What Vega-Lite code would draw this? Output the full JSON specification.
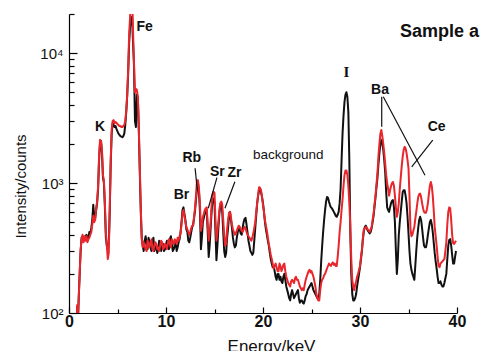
{
  "$schema": "https://vega.github.io/schema/vega-lite/v6.json",
  "width": 388,
  "height": 299,
  "autosize": {"type": "none"},
  "padding": {"left": 69, "top": 14, "right": 23, "bottom": 38},
  "background": "white",
  "config": {
    "view": {"stroke": null},
    "font": "Liberation Sans",
    "axis": {"grid": false, "domainColor": "#000", "tickColor": "#000", "labelColor": "#111", "titleColor": "#111", "domainWidth": 1.2, "tickWidth": 1.2}
  },
  "datasets": {
    "spec": [
      {"e":0.8,"b":70,"r":70},{"e":0.85,"b":112,"r":115},{"e":0.9,"b":75,"r":75},{"e":0.95,"b":100,"r":100},{"e":1.0,"b":130,"r":130},{"e":1.1,"b":200,"r":200},{"e":1.2,"b":300,"r":310},{"e":1.3,"b":380,"r":370},{"e":1.4,"b":390,"r":400},{"e":1.5,"b":360,"r":350},{"e":1.6,"b":370,"r":390},{"e":1.7,"b":390,"r":360},{"e":1.8,"b":400,"r":390},{"e":1.9,"b":370,"r":350},{"e":2.0,"b":380,"r":370},{"e":2.1,"b":420,"r":380},{"e":2.2,"b":410,"r":400},{"e":2.3,"b":450,"r":420},{"e":2.4,"b":520,"r":480},{"e":2.5,"b":680,"r":560},{"e":2.6,"b":560,"r":500},{"e":2.7,"b":540,"r":520},{"e":2.8,"b":620,"r":640},{"e":2.9,"b":700,"r":720},{"e":3.0,"b":900,"r":950},{"e":3.1,"b":1500,"r":1600},{"e":3.2,"b":2050,"r":2150},{"e":3.3,"b":2100,"r":2100},{"e":3.4,"b":1700,"r":1800},{"e":3.5,"b":1100,"r":1150},{"e":3.6,"b":1000,"r":1050},{"e":3.7,"b":650,"r":700},{"e":3.8,"b":380,"r":420},{"e":3.9,"b":330,"r":330},{"e":4.0,"b":310,"r":260},{"e":4.1,"b":340,"r":290},{"e":4.2,"b":600,"r":650},{"e":4.3,"b":1400,"r":1500},{"e":4.4,"b":2400,"r":2600},{"e":4.5,"b":2900,"r":3000},{"e":4.6,"b":2800,"r":3050},{"e":4.7,"b":2700,"r":2900},{"e":4.8,"b":2750,"r":2950},{"e":4.9,"b":2600,"r":2900},{"e":5.0,"b":2500,"r":2850},{"e":5.1,"b":2400,"r":2800},{"e":5.2,"b":2350,"r":2750},{"e":5.3,"b":2300,"r":2750},{"e":5.4,"b":2280,"r":2700},{"e":5.5,"b":2250,"r":2700},{"e":5.6,"b":2300,"r":2750},{"e":5.7,"b":2400,"r":2800},{"e":5.8,"b":2800,"r":3000},{"e":5.9,"b":3500,"r":3600},{"e":6.0,"b":4700,"r":4800},{"e":6.1,"b":7000,"r":7500},{"e":6.2,"b":12000,"r":14000},{"e":6.3,"b":16000,"r":19000},{"e":6.4,"b":18500,"r":30000},{"e":6.5,"b":19000,"r":30000},{"e":6.6,"b":12000,"r":15000},{"e":6.7,"b":8000,"r":8500},{"e":6.8,"b":3000,"r":5000},{"e":6.9,"b":2700,"r":5300},{"e":7.0,"b":4800,"r":5200},{"e":7.1,"b":4500,"r":4600},{"e":7.2,"b":2500,"r":2600},{"e":7.3,"b":1200,"r":1300},{"e":7.4,"b":600,"r":650},{"e":7.5,"b":380,"r":370},{"e":7.6,"b":330,"r":320},{"e":7.7,"b":300,"r":350},{"e":7.8,"b":360,"r":330},{"e":7.9,"b":390,"r":310},{"e":8.0,"b":340,"r":300},{"e":8.1,"b":310,"r":360},{"e":8.2,"b":380,"r":350},{"e":8.3,"b":350,"r":320},{"e":8.4,"b":320,"r":340},{"e":8.5,"b":300,"r":370},{"e":8.6,"b":350,"r":310},{"e":8.7,"b":380,"r":300},{"e":8.8,"b":300,"r":330},{"e":8.9,"b":320,"r":350},{"e":9.0,"b":330,"r":340},{"e":9.1,"b":290,"r":310},{"e":9.2,"b":310,"r":320},{"e":9.3,"b":360,"r":300},{"e":9.4,"b":350,"r":330},{"e":9.5,"b":300,"r":360},{"e":9.6,"b":320,"r":350},{"e":9.7,"b":340,"r":310},{"e":9.8,"b":300,"r":320},{"e":9.9,"b":310,"r":340},{"e":10.0,"b":340,"r":330},{"e":10.1,"b":360,"r":310},{"e":10.2,"b":330,"r":350},{"e":10.3,"b":310,"r":370},{"e":10.4,"b":370,"r":340},{"e":10.5,"b":390,"r":320},{"e":10.6,"b":340,"r":370},{"e":10.7,"b":300,"r":350},{"e":10.8,"b":310,"r":340},{"e":10.9,"b":330,"r":370},{"e":11.0,"b":350,"r":360},{"e":11.1,"b":300,"r":340},{"e":11.2,"b":320,"r":380},{"e":11.3,"b":350,"r":360},{"e":11.4,"b":370,"r":390},{"e":11.5,"b":420,"r":410},{"e":11.6,"b":500,"r":480},{"e":11.7,"b":620,"r":580},{"e":11.8,"b":650,"r":620},{"e":11.9,"b":580,"r":560},{"e":12.0,"b":520,"r":500},{"e":12.1,"b":440,"r":460},{"e":12.2,"b":420,"r":440},{"e":12.3,"b":360,"r":420},{"e":12.4,"b":350,"r":400},{"e":12.5,"b":380,"r":420},{"e":12.6,"b":420,"r":450},{"e":12.7,"b":460,"r":470},{"e":12.8,"b":480,"r":470},{"e":12.9,"b":540,"r":560},{"e":13.0,"b":620,"r":650},{"e":13.1,"b":760,"r":820},{"e":13.2,"b":900,"r":1050},{"e":13.3,"b":1000,"r":1050},{"e":13.4,"b":850,"r":900},{"e":13.5,"b":600,"r":700},{"e":13.6,"b":310,"r":430},{"e":13.7,"b":380,"r":470},{"e":13.8,"b":500,"r":550},{"e":13.9,"b":540,"r":580},{"e":14.0,"b":580,"r":620},{"e":14.1,"b":600,"r":640},{"e":14.2,"b":620,"r":650},{"e":14.3,"b":420,"r":480},{"e":14.4,"b":270,"r":360},{"e":14.5,"b":330,"r":420},{"e":14.6,"b":450,"r":500},{"e":14.7,"b":600,"r":680},{"e":14.8,"b":740,"r":820},{"e":14.9,"b":760,"r":860},{"e":15.0,"b":700,"r":840},{"e":15.1,"b":420,"r":520},{"e":15.2,"b":255,"r":360},{"e":15.3,"b":330,"r":420},{"e":15.4,"b":450,"r":500},{"e":15.5,"b":580,"r":620},{"e":15.6,"b":680,"r":700},{"e":15.7,"b":700,"r":720},{"e":15.8,"b":600,"r":680},{"e":15.9,"b":420,"r":520},{"e":16.0,"b":300,"r":400},{"e":16.1,"b":270,"r":330},{"e":16.2,"b":290,"r":340},{"e":16.3,"b":380,"r":440},{"e":16.4,"b":450,"r":520},{"e":16.5,"b":560,"r":590},{"e":16.6,"b":600,"r":600},{"e":16.7,"b":520,"r":540},{"e":16.8,"b":450,"r":480},{"e":16.9,"b":380,"r":440},{"e":17.0,"b":340,"r":420},{"e":17.1,"b":320,"r":400},{"e":17.2,"b":330,"r":410},{"e":17.3,"b":380,"r":430},{"e":17.4,"b":420,"r":450},{"e":17.5,"b":450,"r":470},{"e":17.6,"b":440,"r":460},{"e":17.7,"b":410,"r":440},{"e":17.8,"b":400,"r":430},{"e":17.9,"b":450,"r":420},{"e":18.0,"b":500,"r":440},{"e":18.1,"b":530,"r":460},{"e":18.2,"b":540,"r":450},{"e":18.3,"b":480,"r":420},{"e":18.4,"b":420,"r":400},{"e":18.5,"b":360,"r":390},{"e":18.6,"b":330,"r":380},{"e":18.7,"b":300,"r":370},{"e":18.8,"b":290,"r":360},{"e":18.9,"b":280,"r":380},{"e":19.0,"b":290,"r":410},{"e":19.1,"b":360,"r":450},{"e":19.2,"b":450,"r":500},{"e":19.3,"b":560,"r":600},{"e":19.4,"b":700,"r":700},{"e":19.5,"b":800,"r":820},{"e":19.6,"b":880,"r":930},{"e":19.7,"b":900,"r":920},{"e":19.8,"b":850,"r":880},{"e":19.9,"b":780,"r":780},{"e":20.0,"b":700,"r":680},{"e":20.1,"b":600,"r":600},{"e":20.2,"b":500,"r":520},{"e":20.3,"b":440,"r":470},{"e":20.4,"b":400,"r":430},{"e":20.5,"b":360,"r":380},{"e":20.6,"b":330,"r":340},{"e":20.7,"b":290,"r":310},{"e":20.8,"b":260,"r":280},{"e":20.9,"b":240,"r":260},{"e":21.0,"b":225,"r":240},{"e":21.1,"b":230,"r":220},{"e":21.2,"b":210,"r":230},{"e":21.3,"b":190,"r":240},{"e":21.4,"b":180,"r":225},{"e":21.5,"b":200,"r":210},{"e":21.6,"b":200,"r":210},{"e":21.7,"b":180,"r":240},{"e":21.8,"b":190,"r":230},{"e":21.9,"b":175,"r":210},{"e":22.0,"b":170,"r":220},{"e":22.1,"b":190,"r":235},{"e":22.2,"b":200,"r":240},{"e":22.3,"b":180,"r":210},{"e":22.4,"b":160,"r":190},{"e":22.5,"b":150,"r":180},{"e":22.6,"b":140,"r":170},{"e":22.7,"b":130,"r":165},{"e":22.8,"b":125,"r":160},{"e":22.9,"b":140,"r":175},{"e":23.0,"b":150,"r":180},{"e":23.1,"b":140,"r":175},{"e":23.2,"b":130,"r":170},{"e":23.3,"b":135,"r":185},{"e":23.4,"b":140,"r":190},{"e":23.5,"b":145,"r":180},{"e":23.6,"b":150,"r":180},{"e":23.7,"b":130,"r":170},{"e":23.8,"b":120,"r":160},{"e":23.9,"b":125,"r":155},{"e":24.0,"b":125,"r":150},{"e":24.1,"b":120,"r":155},{"e":24.2,"b":118,"r":150},{"e":24.3,"b":125,"r":165},{"e":24.4,"b":135,"r":180},{"e":24.5,"b":140,"r":190},{"e":24.6,"b":150,"r":200},{"e":24.7,"b":155,"r":210},{"e":24.8,"b":160,"r":215},{"e":24.9,"b":165,"r":205},{"e":25.0,"b":170,"r":210},{"e":25.1,"b":160,"r":200},{"e":25.2,"b":150,"r":190},{"e":25.3,"b":145,"r":175},{"e":25.4,"b":140,"r":160},{"e":25.5,"b":135,"r":140},{"e":25.6,"b":130,"r":130},{"e":25.7,"b":130,"r":125},{"e":25.8,"b":140,"r":125},{"e":25.9,"b":180,"r":150},{"e":26.0,"b":250,"r":170},{"e":26.1,"b":330,"r":180},{"e":26.2,"b":420,"r":185},{"e":26.3,"b":520,"r":195},{"e":26.4,"b":620,"r":200},{"e":26.5,"b":720,"r":210},{"e":26.6,"b":780,"r":220},{"e":26.7,"b":770,"r":230},{"e":26.8,"b":720,"r":240},{"e":26.9,"b":680,"r":235},{"e":27.0,"b":650,"r":230},{"e":27.1,"b":640,"r":240},{"e":27.2,"b":620,"r":245},{"e":27.3,"b":600,"r":235},{"e":27.4,"b":580,"r":240},{"e":27.5,"b":560,"r":230},{"e":27.6,"b":550,"r":230},{"e":27.7,"b":570,"r":270},{"e":27.8,"b":600,"r":330},{"e":27.9,"b":700,"r":420},{"e":28.0,"b":900,"r":500},{"e":28.1,"b":1500,"r":620},{"e":28.2,"b":2400,"r":750},{"e":28.3,"b":3300,"r":950},{"e":28.4,"b":4200,"r":1150},{"e":28.5,"b":4800,"r":1250},{"e":28.6,"b":5000,"r":1250},{"e":28.7,"b":4600,"r":1150},{"e":28.8,"b":3500,"r":950},{"e":28.9,"b":1500,"r":700},{"e":29.0,"b":420,"r":470},{"e":29.1,"b":200,"r":260},{"e":29.2,"b":140,"r":180},{"e":29.3,"b":125,"r":160},{"e":29.4,"b":125,"r":150},{"e":29.5,"b":130,"r":165},{"e":29.6,"b":140,"r":175},{"e":29.7,"b":160,"r":190},{"e":29.8,"b":180,"r":200},{"e":29.9,"b":200,"r":215},{"e":30.0,"b":225,"r":230},{"e":30.1,"b":260,"r":270},{"e":30.2,"b":300,"r":310},{"e":30.3,"b":370,"r":380},{"e":30.4,"b":430,"r":440},{"e":30.5,"b":460,"r":450},{"e":30.6,"b":470,"r":460},{"e":30.7,"b":450,"r":450},{"e":30.8,"b":430,"r":440},{"e":30.9,"b":420,"r":430},{"e":31.0,"b":410,"r":420},{"e":31.1,"b":420,"r":440},{"e":31.2,"b":450,"r":460},{"e":31.3,"b":500,"r":520},{"e":31.4,"b":560,"r":580},{"e":31.5,"b":660,"r":690},{"e":31.6,"b":780,"r":800},{"e":31.7,"b":930,"r":980},{"e":31.8,"b":1100,"r":1200},{"e":31.9,"b":1400,"r":1600},{"e":32.0,"b":1700,"r":2000},{"e":32.1,"b":2000,"r":2400},{"e":32.2,"b":2150,"r":2560},{"e":32.3,"b":2000,"r":2300},{"e":32.4,"b":1800,"r":2000},{"e":32.5,"b":1500,"r":1700},{"e":32.6,"b":1200,"r":1400},{"e":32.7,"b":850,"r":1150},{"e":32.8,"b":650,"r":1000},{"e":32.9,"b":620,"r":900},{"e":33.0,"b":600,"r":800},{"e":33.1,"b":650,"r":880},{"e":33.2,"b":700,"r":950},{"e":33.3,"b":730,"r":1000},{"e":33.4,"b":740,"r":1020},{"e":33.5,"b":650,"r":950},{"e":33.6,"b":500,"r":800},{"e":33.7,"b":300,"r":650},{"e":33.8,"b":200,"r":550},{"e":33.9,"b":260,"r":600},{"e":34.0,"b":400,"r":700},{"e":34.1,"b":500,"r":900},{"e":34.2,"b":600,"r":1100},{"e":34.3,"b":720,"r":1350},{"e":34.4,"b":850,"r":1600},{"e":34.5,"b":880,"r":1800},{"e":34.6,"b":880,"r":1900},{"e":34.7,"b":800,"r":1850},{"e":34.8,"b":700,"r":1700},{"e":34.9,"b":550,"r":1500},{"e":35.0,"b":410,"r":1300},{"e":35.1,"b":300,"r":800},{"e":35.2,"b":240,"r":450},{"e":35.3,"b":215,"r":390},{"e":35.4,"b":200,"r":400},{"e":35.5,"b":190,"r":430},{"e":35.6,"b":180,"r":460},{"e":35.7,"b":230,"r":530},{"e":35.8,"b":300,"r":600},{"e":35.9,"b":380,"r":690},{"e":36.0,"b":450,"r":780},{"e":36.1,"b":520,"r":820},{"e":36.2,"b":550,"r":830},{"e":36.3,"b":520,"r":780},{"e":36.4,"b":450,"r":700},{"e":36.5,"b":380,"r":640},{"e":36.6,"b":330,"r":600},{"e":36.7,"b":320,"r":590},{"e":36.8,"b":320,"r":590},{"e":36.9,"b":350,"r":630},{"e":37.0,"b":400,"r":700},{"e":37.1,"b":450,"r":820},{"e":37.2,"b":500,"r":950},{"e":37.3,"b":520,"r":1020},{"e":37.4,"b":480,"r":950},{"e":37.5,"b":420,"r":800},{"e":37.6,"b":350,"r":620},{"e":37.7,"b":290,"r":460},{"e":37.8,"b":250,"r":390},{"e":37.9,"b":220,"r":330},{"e":38.0,"b":190,"r":270},{"e":38.1,"b":170,"r":230},{"e":38.2,"b":170,"r":225},{"e":38.3,"b":175,"r":240},{"e":38.4,"b":165,"r":245},{"e":38.5,"b":160,"r":250},{"e":38.6,"b":160,"r":255},{"e":38.7,"b":170,"r":260},{"e":38.8,"b":185,"r":300},{"e":38.9,"b":200,"r":350},{"e":39.0,"b":260,"r":480},{"e":39.1,"b":330,"r":600},{"e":39.2,"b":365,"r":650},{"e":39.3,"b":370,"r":640},{"e":39.4,"b":330,"r":520},{"e":39.5,"b":280,"r":400},{"e":39.6,"b":240,"r":345},{"e":39.7,"b":240,"r":340},{"e":39.8,"b":270,"r":350},{"e":39.9,"b":300,"r":360}
    ],
    "pointers": [
      {"e":13.0,"v":1300,"e2":13.23,"v2":883},
      {"e":15.25,"v":1100,"e2":14.36,"v2":640},
      {"e":17.1,"v":1024,"e2":16.08,"v2":640},
      {"e":32.24,"v":4610,"e2":32.24,"v2":2710},
      {"e":32.4,"v":4610,"e2":36.7,"v2":1150},
      {"e":37.5,"v":2140,"e2":35.33,"v2":1335}
    ],
    "elements": [
      {"e":3.2,"v":2690,"t":"K"},
      {"e":7.8,"v":15850,"t":"Fe"},
      {"e":11.6,"v":809,"t":"Br"},
      {"e":12.65,"v":1550,"t":"Rb"},
      {"e":15.3,"v":1220,"t":"Sr"},
      {"e":17.05,"v":1190,"t":"Zr"},
      {"e":32.06,"v":5190,"t":"Ba"},
      {"e":37.9,"v":2710,"t":"Ce"}
    ],
    "notes": [
      {"e":22.6,"v":1640,"t":"background"}
    ],
    "iodine": [
      {"e":28.6,"v":7180,"t":"I"}
    ],
    "sample": [
      {"e":38.2,"v":14600,"t":"Sample a"}
    ]
  },
  "layer": [
    {
      "data": {"name": "spec"},
      "transform": [{"fold": ["b", "r"], "as": ["s", "val"]}],
      "mark": {"type": "line", "clip": true, "strokeWidth": 2, "strokeJoin": "round"},
      "encoding": {
        "x": {
          "field": "e", "type": "quantitative",
          "scale": {"domain": [0, 40], "nice": false, "zero": false},
          "axis": {
            "title": "Energy/keV",
            "values": [0, 5, 10, 15, 20, 25, 30, 35, 40],
            "labelExpr": "datum.value % 10 === 0 ? datum.label : ''",
            "labelFont": "Liberation Sans", "labelFontWeight": "bold", "labelFontSize": 16,
            "labelPadding": 6,
            "tickSize": {"condition": {"test": "datum.value % 10 === 0", "value": -6}, "value": -4},
            "labelFlush": false,
            "titleFont": "Liberation Sans", "titleFontSize": 17, "titleFontWeight": "normal",
            "titleX": 202, "titleY": 38, "titleBaseline": "alphabetic"
          }
        },
        "y": {
          "field": "val", "type": "quantitative",
          "scale": {"type": "log", "domain": [100, 20000], "nice": false},
          "axis": {
            "title": "Intensity/counts",
            "values": [100, 200, 300, 400, 500, 600, 700, 800, 900, 1000, 2000, 3000, 4000, 5000, 6000, 7000, 8000, 9000, 10000, 20000],
            "labelExpr": "datum.value === 100 ? '10²' : datum.value === 1000 ? '10³' : datum.value === 10000 ? '10⁴' : ''",
            "labelFont": "Liberation Sans", "labelFontSize": 15, "labelFontWeight": "normal",
            "labelPadding": 14,
            "tickSize": {"condition": {"test": "datum.value === 100 || datum.value === 1000 || datum.value === 10000", "value": -8}, "value": -5},
            "titleFont": "Liberation Sans", "titleFontSize": 15, "titleFontWeight": "normal",
            "titleX": -49, "titleY": 172, "titleBaseline": "middle", "titleAngle": -90
          }
        },
        "color": {
          "field": "s", "type": "nominal",
          "scale": {"domain": ["b", "r"], "range": ["#111111", "#e8262c"]},
          "legend": null
        }
      }
    },
    {
      "data": {"name": "pointers"},
      "mark": {"type": "rule", "color": "#111", "strokeWidth": 1.2},
      "encoding": {
        "x": {"field": "e", "type": "quantitative"},
        "y": {"field": "v", "type": "quantitative"},
        "x2": {"field": "e2"},
        "y2": {"field": "v2"}
      }
    },
    {
      "data": {"name": "elements"},
      "mark": {"type": "text", "font": "Liberation Sans", "fontWeight": "bold", "fontSize": 14, "color": "#111", "align": "center", "baseline": "middle"},
      "encoding": {
        "x": {"field": "e", "type": "quantitative"},
        "y": {"field": "v", "type": "quantitative"},
        "text": {"field": "t"}
      }
    },
    {
      "data": {"name": "notes"},
      "mark": {"type": "text", "font": "Liberation Sans", "fontSize": 13.5, "color": "#111", "align": "center", "baseline": "middle"},
      "encoding": {
        "x": {"field": "e", "type": "quantitative"},
        "y": {"field": "v", "type": "quantitative"},
        "text": {"field": "t"}
      }
    },
    {
      "data": {"name": "iodine"},
      "mark": {"type": "text", "font": "Liberation Serif", "fontWeight": "bold", "fontSize": 15, "color": "#111", "align": "center", "baseline": "middle"},
      "encoding": {
        "x": {"field": "e", "type": "quantitative"},
        "y": {"field": "v", "type": "quantitative"},
        "text": {"field": "t"}
      }
    },
    {
      "data": {"name": "sample"},
      "mark": {"type": "text", "font": "Liberation Sans", "fontWeight": "bold", "fontSize": 18, "color": "#111", "align": "center", "baseline": "middle"},
      "encoding": {
        "x": {"field": "e", "type": "quantitative"},
        "y": {"field": "v", "type": "quantitative"},
        "text": {"field": "t"}
      }
    }
  ]
}
